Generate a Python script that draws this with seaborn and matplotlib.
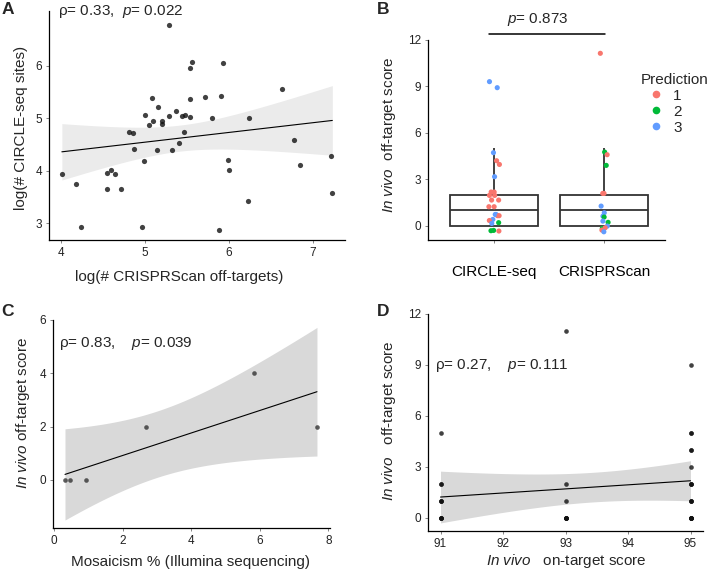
import numpy as np
import pandas as pd
import matplotlib
matplotlib.use("Agg")
import matplotlib.pyplot as plt
import seaborn as sns
from matplotlib.lines import Line2D

# ---------------- data ----------------
# Panel A
a_crisprscan = [4.01, 4.18, 4.24, 4.55, 4.59, 4.64, 4.55, 4.72, 4.81, 4.86,
                4.87, 4.97, 4.99, 5.00, 5.05, 5.08, 5.10, 5.15, 5.14, 5.20,
                5.20, 5.28, 5.29, 5.32, 5.37, 5.41, 5.44, 5.47, 5.48, 5.53,
                5.53, 5.53, 5.56, 5.72, 5.80, 5.88, 5.91, 5.93, 5.99, 6.00,
                6.23, 6.24, 6.63, 6.77, 6.84, 7.21, 7.23]
a_circleseq = [3.94, 3.74, 2.92, 3.96, 4.02, 3.94, 3.65, 3.65, 4.74, 4.72,
               4.41, 2.92, 4.18, 5.07, 4.88, 5.39, 4.94, 5.22, 4.40, 4.94,
               4.89, 6.78, 5.05, 4.39, 5.13, 4.53, 5.04, 4.73, 5.07, 5.95,
               5.36, 5.03, 6.07, 5.41, 5.00, 2.87, 5.43, 6.05, 4.21, 4.01,
               3.42, 5.01, 5.55, 4.58, 4.10, 4.28, 3.57]

# Panel B (plotted, vertically jittered positions)
b_methods = ["CIRCLE-seq", "CRISPRScan"]
b_circle_score = [9.31, 8.92, 4.72, 4.20, 3.96, 3.17, 2.18, 1.96, 1.66, 1.23,
                  0.73, 0.65, 0.41, 0.34, 0.15, 0.20, -0.32, -0.30, -0.34,
                  1.23, 0.73, 0.65, 2.18, 1.96, 1.66]
b_circle_pred = ["3", "3", "3", "1", "1", "3", "1", "1", "1", "1",
                 "3", "1", "3", "1", "3", "2", "2", "2", "1",
                 "1", "3", "1", "1", "1", "1"]
b_crispr_score = [11.14, 4.76, 4.59, 3.90, 2.09, 1.27, 0.84, 0.62, 0.56, 0.30,
                  0.22, -0.02, -0.17, -0.13, -0.28, -0.39, 2.09]
b_crispr_pred = ["1", "2", "1", "2", "1", "3", "3", "3", "2", "3",
                 "2", "3", "2", "1", "1", "3", "1"]
b_pred_levels = ["1", "2", "3"]
b_pred_colors = ["#F8766D", "#00BA38", "#619CFF"]

# Panel C
c_mosaicism = [0.32, 0.47, 0.92, 2.69, 5.83, 7.67]
c_offtarget = [0, 0, 0, 2, 4, 2]

# Panel D
d_ontarget = [91, 91, 91, 91, 91, 91, 91, 91, 91, 91,
              93, 93, 93, 93, 93, 93, 93, 93,
              95, 95, 95, 95, 95, 95, 95, 95, 95, 95, 95, 95, 95, 95, 95, 95, 95, 95]
d_offtarget = [5, 2, 2, 1, 1, 1, 0, 0, 0, 0,
               11, 2, 1, 0, 0, 0, 0, 0,
               9, 5, 5, 4, 4, 3, 2, 2, 2, 1, 1, 1, 0, 0, 0, 0, 0, 0]

# ---------------- style ----------------
sns.set_style("ticks")
plt.rcParams["font.family"] = ["Liberation Sans", "DejaVu Sans"]
plt.rcParams["mathtext.fontset"] = "custom"
plt.rcParams["mathtext.rm"] = "Liberation Sans"
plt.rcParams["mathtext.it"] = "Liberation Sans:italic"

W, H = 711, 570
fig = plt.figure(figsize=(W / 100, H / 100), dpi=100)


def rect(l, t, r, b):
    return [l / W, 1 - b / H, (r - l) / W, (b - t) / H]


def fx(px):
    return px / W


def fy(py):
    return 1 - py / H


def style_axes(ax, ticksize=8.5):
    for s in ["top", "right"]:
        ax.spines[s].set_visible(False)
    for s in ["left", "bottom"]:
        ax.spines[s].set_color("black")
        ax.spines[s].set_linewidth(0.9)
    ax.tick_params(length=2, width=0.5, color="#555555", labelsize=ticksize,
                   labelcolor="#222222", pad=3)


def tq975(df):
    z = 1.959964
    return (z + (z**3 + z) / (4 * df)
            + (5 * z**5 + 16 * z**3 + 3 * z) / (96 * df**2)
            + (3 * z**7 + 19 * z**5 + 17 * z**3 - 15 * z) / (384 * df**3)
            + (79 * z**9 + 776 * z**7 + 1482 * z**5 - 1920 * z**3 - 945 * z) / (92160 * df**4))


def lm_band(ax, x, y, color):
    x = np.asarray(x, float)
    y = np.asarray(y, float)
    n = len(x)
    b, a = np.polyfit(x, y, 1)
    xs = np.linspace(x.min(), x.max(), 200)
    yh = a + b * xs
    resid = y - (a + b * x)
    s = np.sqrt((resid**2).sum() / (n - 2))
    se = s * np.sqrt(1 / n + (xs - x.mean())**2 / ((x - x.mean())**2).sum())
    t = tq975(n - 2)
    ax.fill_between(xs, yh - t * se, yh + t * se, color=color, lw=0, zorder=0.5)


LBL = 11

# ---------------- Panel A ----------------
axA = fig.add_axes(rect(49, 10.8, 345, 240))
lm_band(axA, a_crisprscan, a_circleseq, "#EBEBEB")
sns.regplot(x=a_crisprscan, y=a_circleseq, ax=axA, ci=None, color="#111111",
            scatter_kws=dict(s=14, linewidths=0, zorder=2),
            line_kws=dict(color="black", lw=0.8, zorder=3))
axA.set_xlim(3.857, 7.381)
axA.set_ylim(2.676, 7.05)
axA.set_xticks([4, 5, 6, 7])
axA.set_yticks([3, 4, 5, 6])
style_axes(axA)
axA.set_xlabel("log(# CRISPRScan off-targets)", fontsize=LBL)
axA.set_ylabel("log(# CIRCLE-seq sites)", fontsize=LBL)
axA.xaxis.set_label_coords(0.439, -0.13)
axA.yaxis.set_label_coords(-0.072, 0.489)

# ---------------- Panel B ----------------
axB = fig.add_axes(rect(428, 40, 665, 240))
dfb = pd.DataFrame({
    "method": [b_methods[0]] * len(b_circle_score) + [b_methods[1]] * len(b_crispr_score),
    "score": b_circle_score + b_crispr_score,
    "Prediction": b_circle_pred + b_crispr_pred,
})
dfb_box = dfb.assign(score=np.rint(dfb["score"]))
sns.boxplot(data=dfb_box, x="method", y="score", order=b_methods, width=0.8,
            color="white", linecolor="#333333", linewidth=1.3,
            showfliers=False, showcaps=False, ax=axB)
np.random.seed(7)
pal = dict(zip(b_pred_levels, b_pred_colors))
sns.stripplot(data=dfb, x="method", y="score", order=b_methods, hue="Prediction",
              hue_order=b_pred_levels, palette=pal, jitter=0.05, size=3.7,
              linewidth=0, ax=axB, legend=False, zorder=3)
axB.set_xlim(-0.6, 1.55)
axB.set_ylim(-0.92, 12.0)
axB.set_yticks([0, 3, 6, 9, 12])
style_axes(axB)
axB.tick_params(axis="x", labelsize=LBL, pad=16, labelcolor="black")
axB.set_xlabel("")
axB.set_ylabel(r"$\it{In\ vivo}$  off-target score", fontsize=LBL)
axB.yaxis.set_label_coords(-0.127, 0.525)
axB.plot([-0.05, 1.01], [12.37, 12.37], color="black", lw=1.1, clip_on=False)
fig.text(fx(538), fy(20), r"$\it{p}$= 0.873", fontsize=LBL, ha="center", va="center")

handles = [Line2D([0], [0], marker="o", linestyle="", markersize=5.5,
                  markerfacecolor=c, markeredgewidth=0) for c in b_pred_colors]
leg = fig.legend(handles, b_pred_levels, title="Prediction", loc="upper left",
                 bbox_to_anchor=(fx(641), fy(73)), frameon=False, fontsize=LBL,
                 title_fontsize=LBL, handlelength=2.0, handletextpad=0.1,
                 labelspacing=0.12, borderpad=0, borderaxespad=0, alignment="left")

# ---------------- Panel C ----------------
axC = fig.add_axes(rect(53, 320, 330, 528))
lm_band(axC, c_mosaicism, c_offtarget, "#D9D9D9")
sns.regplot(x=c_mosaicism, y=c_offtarget, ax=axC, ci=None, color="#333333",
            scatter_kws=dict(s=11, linewidths=0, zorder=2),
            line_kws=dict(color="black", lw=0.8, zorder=3))
axC.set_xlim(-0.03, 8.05)
axC.set_ylim(-1.8, 6.0)
axC.set_xticks([0, 2, 4, 6, 8])
axC.set_yticks([0, 2, 4, 6])
style_axes(axC)
axC.set_xlabel("Mosaicism % (Illumina sequencing)", fontsize=LBL)
axC.set_ylabel(r"$\it{In\ vivo}$ off-target score", fontsize=LBL)
axC.xaxis.set_label_coords(0.495, -0.13)
axC.yaxis.set_label_coords(-0.077, 0.555)
fig.text(fx(59), fy(344), r"ρ= 0.83,    $\it{p}$= 0.039", fontsize=LBL, ha="left", va="center")

# ---------------- Panel D ----------------
axD = fig.add_axes(rect(428, 314, 703, 531))
lm_band(axD, d_ontarget, d_offtarget, "#D9D9D9")
sns.regplot(x=d_ontarget, y=d_offtarget, ax=axD, ci=None, color="#111111",
            scatter_kws=dict(s=11, linewidths=0, zorder=2),
            line_kws=dict(color="black", lw=0.8, zorder=3))
axD.set_xlim(90.8, 95.2)
axD.set_ylim(-0.78, 12.0)
axD.set_xticks([91, 92, 93, 94, 95])
axD.set_yticks([0, 3, 6, 9, 12])
style_axes(axD)
axD.set_xlabel(r"$\it{In\ vivo}$   on-target score", fontsize=LBL)
axD.set_ylabel(r"$\it{In\ vivo}$   off-target score", fontsize=LBL)
axD.xaxis.set_label_coords(0.504, -0.095)
axD.yaxis.set_label_coords(-0.108, 0.508)
fig.text(fx(435), fy(365), r"ρ= 0.27,    $\it{p}$= 0.111", fontsize=LBL, ha="left", va="center")

# ---------------- texts ----------------
fig.text(fx(58), fy(11), r"ρ= 0.33,  $\it{p}$= 0.022", fontsize=LBL, ha="left", va="center")
for lab, x, y in [("A", 2, 10), ("B", 377, 10), ("C", 1, 312), ("D", 377, 312)]:
    fig.text(fx(x), fy(y), lab, fontsize=12.5, fontweight="bold", ha="left", va="center")

fig.savefig("out.png", dpi=100)
